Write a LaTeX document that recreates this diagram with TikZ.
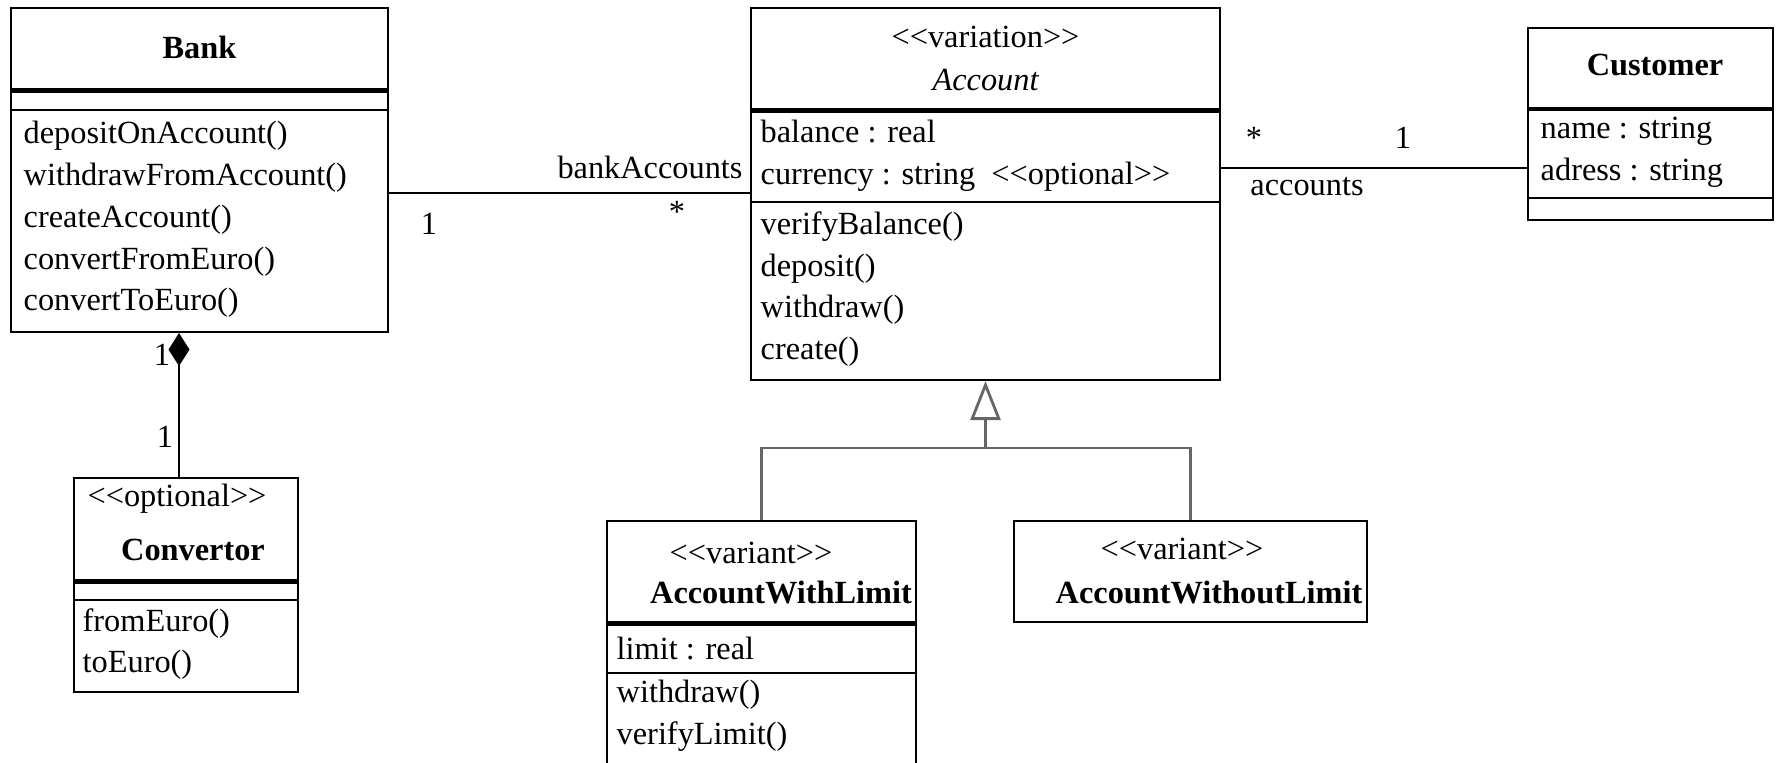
\documentclass[tikz,border=0pt]{standalone}
\usepackage{fontspec}
\setmainfont{Liberation Serif}
\usetikzlibrary{arrows.meta}
\newcommand{\umlst}[1]{<{}<#1>{}>}

\begin{document}
\fontsize{9.2pt}{11.9pt}\selectfont
\begin{tikzpicture}[y=-1cm,
	classbox/.style={rectangle, draw, line width=0.6pt, inner sep=0pt},
	classname/.style={inner sep=0pt, font=\bfseries},
	stereo/.style={inner sep=0pt},
	members/.style={inner sep=0pt, align=left, anchor=west},
	mult/.style={inner sep=0pt},
	divider/.style={line width=0.6pt},
	thickdivider/.style={line width=1.4pt},
	link/.style={line width=0.6pt},
	genline/.style={line width=0.8pt, draw=black!60}]
	
	\useasboundingbox (0,0) rectangle (17.79,7.63);
	
	%Classes
	\node (bank) at (1.995,1.70) [classbox, minimum width=3.77cm, minimum height=3.24cm] {};
	\node (account) at (9.855,1.94) [classbox, minimum width=4.69cm, minimum height=3.72cm] {};
	\node (customer) at (16.505,1.24) [classbox, minimum width=2.45cm, minimum height=1.92cm] {};
	\node (convertor) at (1.86,5.85) [classbox, minimum width=2.24cm, minimum height=2.14cm] {};
	\node (withLimit) at (7.615,6.605) [classbox, minimum width=3.09cm, minimum height=2.79cm] {};
	\node (withoutLimit) at (11.905,5.715) [classbox, minimum width=3.53cm, minimum height=1.01cm] {};
	
	%Compartments
	\draw [thickdivider] ([yshift=-8.4mm]bank.north west) -- ([yshift=-8.4mm]bank.north east);
	\draw [divider] ([yshift=-10.3mm]bank.north west) -- ([yshift=-10.3mm]bank.north east);
	\draw [thickdivider] ([yshift=-10.4mm]account.north west) -- ([yshift=-10.4mm]account.north east);
	\draw [divider] ([yshift=-19.5mm]account.north west) -- ([yshift=-19.5mm]account.north east);
	\draw [line width=0.9pt] ([yshift=-8.2mm]customer.north west) -- ([yshift=-8.2mm]customer.north east);
	\draw [divider] ([yshift=-17.1mm]customer.north west) -- ([yshift=-17.1mm]customer.north east);
	\draw [thickdivider] ([yshift=-10.5mm]convertor.north west) -- ([yshift=-10.5mm]convertor.north east);
	\draw [divider] ([yshift=-12.3mm]convertor.north west) -- ([yshift=-12.3mm]convertor.north east);
	\draw [thickdivider] ([yshift=-10.4mm]withLimit.north west) -- ([yshift=-10.4mm]withLimit.north east);
	\draw [divider] ([yshift=-15.3mm]withLimit.north west) -- ([yshift=-15.3mm]withLimit.north east);
	
	%Texts
	\node (bankName) at (1.995,0.47) [classname] {Bank};
	\node (bankOps) at (0.23,2.195) [members] {depositOnAccount()\\withdrawFromAccount()\\createAccount()\\convertFromEuro()\\convertToEuro()};
	
	\node (accountStereo) at (9.855,0.37) [stereo] {\umlst{variation}};
	\node (accountName) at (9.855,0.80) [stereo, font=\itshape] {Account};
	\node (accountAttrs) at (7.60,1.555) [members] {balance : real\\currency : string\ \ \umlst{optional}};
	\node (accountOps) at (7.60,2.89) [members] {verifyBalance()\\deposit()\\withdraw()\\create()};
	
	\node (customerName) at (16.55,0.65) [classname] {Customer};
	\node (customerAttrs) at (15.40,1.52) [members] {name : string\\adress : string};
	
	\node (convertorStereo) at (1.77,4.99) [stereo] {\umlst{optional}};
	\node (convertorName) at (1.93,5.50) [classname] {Convertor};
	\node (convertorOps) at (0.82,6.44) [members] {fromEuro()\\toEuro()};
	
	\node (withLimitStereo) at (7.51,5.53) [stereo] {\umlst{variant}};
	\node (withLimitName) at (7.81,5.93) [classname] {AccountWithLimit};
	\node (withLimitAttrs) at (6.16,6.49) [members] {limit : real};
	\node (withLimitOps) at (6.16,7.155) [members] {withdraw()\\verifyLimit()};
	
	\node (withoutLimitStereo) at (11.82,5.49) [stereo] {\umlst{variant}};
	\node (withoutLimitName) at (12.09,5.93) [classname] {AccountWithoutLimit};
	
	%Links
	\draw [link] ([yshift=-2.3mm]bank.east) -- ([yshift=-2.3mm]bank.east -| account.west);
	\draw [link] ([yshift=2.6mm]account.east) -- ([yshift=2.6mm]account.east -| customer.west);
	\draw [link, -{Diamond[length=3.3mm, width=2.1mm]}] ([xshift=-0.7mm]convertor.north) -- ([xshift=-0.7mm]convertor.north |- bank.south);
	\coordinate (genJoin) at (9.855,4.48);
	\draw [genline] (withLimit.north) |- (genJoin) -| (withoutLimit.north);
	\draw [genline, -{Triangle[open, length=3.9mm, width=3mm]}] (genJoin) -- (account.south);
	
	%Multiplicities
	\node (bankOne) at (4.29,2.24) [mult] {1};
	\node (bankStar) at (6.77,2.12) [mult] {*};
	\node (bankRole) at (6.50,1.67) [mult] {bankAccounts};
	\node (accountStar) at (12.54,1.38) [mult] {*};
	\node (customerOne) at (14.03,1.38) [mult] {1};
	\node (accountRole) at (13.07,1.87) [mult] {accounts};
	\node (wholeOne) at (1.62,3.55) [mult] {1};
	\node (partOne) at (1.65,4.37) [mult] {1};
	
\end{tikzpicture}
\end{document}
